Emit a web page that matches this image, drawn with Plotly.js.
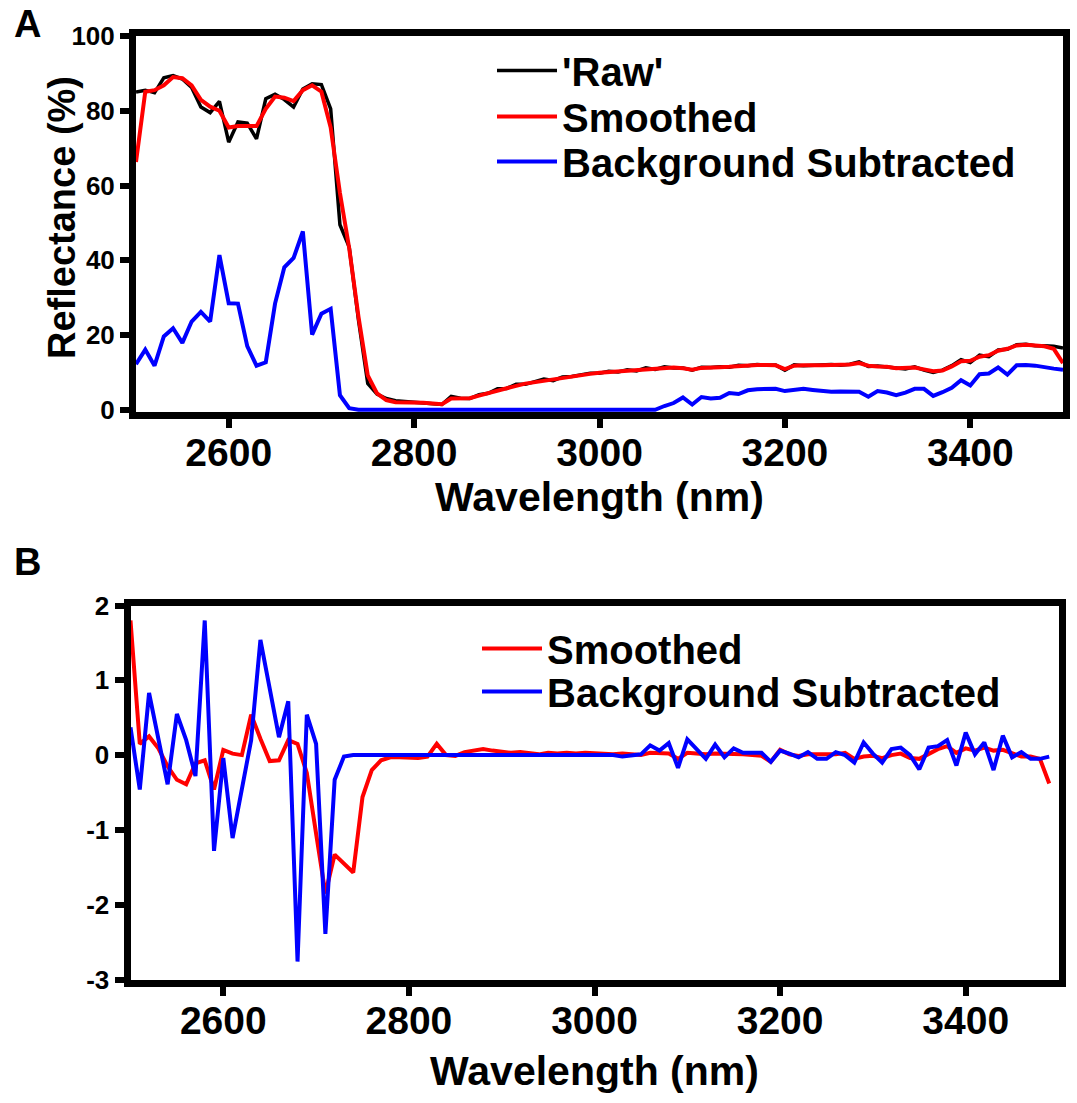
<!DOCTYPE html>
<html>
<head>
<meta charset="utf-8">
<script src="https://cdn.plot.ly/plotly-3.0.1.min.js"></script>
<style>
  html, body { margin: 0; padding: 0; background: #ffffff; }
  #chart { width: 1077px; height: 1103px; }
</style>
</head>
<body>
<div id="chart"></div>
<script>
// ---------- Panel A data (Reflectance %, 2500-3500 nm) ----------
const wavelengthA = [
  2500,2510,2520,2530,2540,2550,2560,2570,2580,2590,
  2600,2610,2620,2630,2640,2650,2660,2670,2680,2690,
  2700,2710,2720,2730,2740,2750,2760,2770,2780,2790,
  2800,2810,2820,2830,2840,2850,2860,2870,2880,2890,
  2900,2910,2920,2930,2940,2950,2960,2970,2980,2990,
  3000,3010,3020,3030,3040,3050,3060,3070,3080,3090,
  3100,3110,3120,3130,3140,3150,3160,3170,3180,3190,
  3200,3210,3220,3230,3240,3250,3260,3270,3280,3290,
  3300,3310,3320,3330,3340,3350,3360,3370,3380,3390,
  3400,3410,3420,3430,3440,3450,3460,3470,3480,3490,
  3500
];
const rawA = [
  85.0,85.5,84.8,88.8,89.4,88.5,86.2,81.0,79.5,82.5,
  71.6,77.0,76.7,72.5,83.2,84.4,83.0,81.0,85.8,87.2,
  87.0,80.5,49.5,43.5,24.0,7.0,4.2,3.0,2.4,2.2,
  2.1,2.0,1.8,1.4,3.6,3.1,3.0,4.0,4.4,5.6,
  5.7,6.8,6.8,7.6,8.2,7.8,8.8,8.9,9.4,9.8,
  9.8,10.3,10.1,10.7,10.4,11.2,10.8,11.5,11.2,11.2,
  10.6,11.4,11.3,11.5,11.4,11.9,11.8,12.1,11.9,12.0,
  10.6,12.0,11.8,11.9,11.8,12.1,11.9,12.2,12.8,11.6,
  11.7,11.4,11.2,10.9,11.5,10.6,10.0,10.6,11.8,13.4,
  12.6,14.6,14.2,16.0,16.2,17.4,17.5,17.1,17.1,17.0,
  16.5
];
const smoothedA = [
  66.3,85.1,85.5,86.8,89.0,88.7,86.8,82.9,81.1,80.0,
  75.5,75.9,75.9,75.9,80.5,83.8,83.5,82.6,85.5,86.8,
  85.1,75.5,58.0,43.2,24.9,9.2,4.4,2.6,2.0,2.0,
  2.0,1.9,1.7,1.5,3.0,3.0,3.1,3.8,4.5,5.2,
  5.8,6.4,7.0,7.4,7.8,8.1,8.6,8.9,9.3,9.6,
  9.9,10.1,10.3,10.5,10.6,10.8,11.0,11.2,11.3,11.1,
  10.7,11.2,11.4,11.4,11.5,11.7,11.9,12.0,12.0,11.9,
  10.9,11.8,11.9,11.8,11.9,12.0,12.0,12.1,12.5,11.8,
  11.6,11.5,11.1,11.1,11.3,10.8,10.3,10.5,11.6,13.0,
  13.1,14.2,14.6,15.8,16.3,17.2,17.4,17.2,17.0,16.3,
  12.5
];
const subtractedA = [
  12.2,16.1,11.8,19.6,21.8,17.9,23.6,26.2,23.6,41.4,
  28.5,28.4,17.0,11.8,12.7,28.4,38.1,40.6,47.7,20.1,
  25.7,27.0,3.9,0.4,0,0,0,0,0,0,
  0,0,0,0,0,0,0,0,0,0,
  0,0,0,0,0,0,0,0,0,0,
  0,0,0,0,0,0,0,1.0,1.8,3.3,
  1.4,3.4,3.0,3.2,4.5,4.2,5.2,5.5,5.6,5.6,
  5.0,5.4,5.6,5.3,5.1,4.8,4.9,4.9,4.8,3.5,
  5.0,4.6,3.9,4.6,5.6,5.6,3.7,4.7,5.9,7.9,
  6.5,9.5,9.7,11.3,9.4,11.9,12.0,11.8,11.3,11.0,
  10.7
];

// ---------- Panel B data (first derivative, 2500-3490 nm) ----------
const wavelengthB = [
  2500,2510,2520,2530,2540,2550,2560,2570,2580,2590,
  2600,2610,2620,2630,2640,2650,2660,2670,2680,2690,
  2700,2710,2720,2730,2740,2750,2760,2770,2780,2790,
  2800,2810,2820,2830,2840,2850,2860,2870,2880,2890,
  2900,2910,2920,2930,2940,2950,2960,2970,2980,2990,
  3000,3010,3020,3030,3040,3050,3060,3070,3080,3090,
  3100,3110,3120,3130,3140,3150,3160,3170,3180,3190,
  3200,3210,3220,3230,3240,3250,3260,3270,3280,3290,
  3300,3310,3320,3330,3340,3350,3360,3370,3380,3390,
  3400,3410,3420,3430,3440,3450,3460,3470,3480,3490
];
const smoothedB = [
  1.80,0.15,0.25,0.09,-0.15,-0.33,-0.39,-0.11,-0.07,-0.46,
  0.07,0.02,0.00,0.54,0.22,-0.08,-0.07,0.20,0.15,-0.24,
  -1.05,-1.85,-1.33,-1.45,-1.57,-0.56,-0.20,-0.07,-0.03,-0.03,
  -0.04,-0.04,-0.02,0.15,0.00,-0.01,0.04,0.06,0.08,0.06,
  0.05,0.03,0.04,0.03,0.01,0.03,0.02,0.03,0.02,0.03,
  0.02,0.02,0.01,0.02,0.01,0.00,0.03,0.02,0.02,-0.05,
  0.03,0.02,0.01,0.02,0.02,0.02,0.01,0.00,-0.01,-0.09,
  0.07,0.01,-0.01,0.01,0.01,0.00,0.01,0.03,-0.05,-0.02,
  -0.01,-0.04,0.00,0.02,-0.04,-0.05,0.02,0.08,0.12,0.03,
  0.09,0.06,0.10,0.06,0.07,0.02,-0.02,-0.02,-0.05,-0.38
];
const subtractedB = [
  0.37,-0.46,0.83,0.22,-0.39,0.55,0.20,-0.28,1.80,-1.28,
  -0.04,-1.11,-0.45,0.20,1.54,0.87,0.24,0.72,-2.76,0.54,
  0.15,-2.39,-0.33,-0.02,0,0,0,0,0,0,
  0,0,0,0,0,0,0,0,0,0,
  0,0,0,0,0,0,0,0,0,0,
  0,0,0,-0.02,0.00,0.01,0.13,0.06,0.16,-0.17,
  0.21,0.08,-0.05,0.14,-0.03,0.09,0.03,0.03,0.03,-0.09,
  0.06,0.02,-0.03,0.04,-0.05,-0.05,0.04,0.00,-0.10,0.17,
  0.02,-0.10,0.08,0.10,0.00,-0.19,0.10,0.12,0.20,-0.14,
  0.30,0.01,0.17,-0.20,0.26,-0.03,0.04,-0.05,-0.05,-0.02
];

// ---------- Tick labels / text ----------
const xTicks = [2600, 2800, 3000, 3200, 3400];
const xTickText = ["2600", "2800", "3000", "3200", "3400"];
const yTicksA = [0, 20, 40, 60, 80, 100];
const yTickTextA = ["0", "20", "40", "60", "80", "100"];
const yTicksB = [-3, -2, -1, 0, 1, 2];
const yTickTextB = ["-3", "-2", "-1", "0", "1", "2"];
const seriesNames = ["'Raw'", "Smoothed", "Background Subtracted"];
const seriesColors = ["#000000", "#ff0000", "#0000ff"];

// ---------- Styling ----------
const FONT = "Liberation Sans, Arial, Helvetica, sans-serif";
const W = 1077, H = 1103;
const px = (a, b) => [a / W, b / W];
const py = (top, bottom) => [1 - bottom / H, 1 - top / H];

const traces = [
  { x: wavelengthA, y: rawA, name: seriesNames[0], type: "scatter", mode: "lines",
    line: { color: seriesColors[0], width: 3.5 }, xaxis: "x", yaxis: "y", legend: "legend" },
  { x: wavelengthA, y: smoothedA, name: seriesNames[1], type: "scatter", mode: "lines",
    line: { color: seriesColors[1], width: 4 }, xaxis: "x", yaxis: "y", legend: "legend2" },
  { x: wavelengthA, y: subtractedA, name: seriesNames[2], type: "scatter", mode: "lines",
    line: { color: seriesColors[2], width: 4 }, xaxis: "x", yaxis: "y", legend: "legend3" },
  { x: wavelengthB, y: smoothedB, name: seriesNames[1], type: "scatter", mode: "lines",
    line: { color: seriesColors[1], width: 4 }, xaxis: "x2", yaxis: "y2", legend: "legend4" },
  { x: wavelengthB, y: subtractedB, name: seriesNames[2], type: "scatter", mode: "lines",
    line: { color: seriesColors[2], width: 4 }, xaxis: "x2", yaxis: "y2", legend: "legend5" }
];

const axisCommon = {
  showline: true, linecolor: "#000", linewidth: 7, mirror: true,
  showgrid: false, zeroline: false,
  ticks: "outside", ticklen: 9, tickwidth: 6, tickcolor: "#000",
  fixedrange: true
};

const xTickFont = { family: FONT, size: 39, weight: 700, color: "#000" };
const yTickFont = { family: FONT, size: 26, weight: 700, color: "#000" };
const xTitle = (standoff) => ({
  text: "Wavelength (nm)",
  font: { family: FONT, size: 41, color: "#000", weight: 700 },
  standoff: standoff
});

const legendBox = (left, top) => ({
  x: left / W, xanchor: "left", y: 1 - top / H, yanchor: "top",
  bgcolor: "rgba(0,0,0,0)", borderwidth: 0, itemwidth: 60,
  font: { family: FONT, size: 40, color: "#000", weight: 700 }
});

const layout = {
  width: W, height: H, autosize: false,
  margin: { l: 0, r: 0, t: 0, b: 0, pad: 0 },
  paper_bgcolor: "#fff", plot_bgcolor: "#fff",
  font: { family: FONT, color: "#000" },
  xaxis: Object.assign({}, axisCommon, {
    domain: px(136, 1063), anchor: "y", range: [2500, 3500],
    tickmode: "array", tickvals: xTicks, ticktext: xTickText,
    tickfont: xTickFont, ticklabelstandoff: -9,
    title: xTitle(6)
  }),
  yaxis: Object.assign({}, axisCommon, {
    domain: py(36, 412), anchor: "x", range: [-0.6, 100],
    tickmode: "array", tickvals: yTicksA, ticktext: yTickTextA,
    tickfont: yTickFont
  }),
  xaxis2: Object.assign({}, axisCommon, {
    domain: px(130.5, 1058.5), anchor: "y2", range: [2500, 3500],
    tickmode: "array", tickvals: xTicks, ticktext: xTickText,
    tickfont: xTickFont, ticklabelstandoff: -8,
    title: xTitle(18)
  }),
  yaxis2: Object.assign({}, axisCommon, {
    domain: py(605.5, 979.5), anchor: "x2", range: [-3, 2],
    tickmode: "array", tickvals: yTicksB, ticktext: yTickTextB,
    tickfont: yTickFont
  }),
  legend: legendBox(492, 38),
  legend2: legendBox(492, 84),
  legend3: legendBox(492, 129),
  legend4: legendBox(477, 616),
  legend5: legendBox(477, 659),
  showlegend: true,
  annotations: [
    { text: "A", xref: "paper", yref: "paper", x: 28 / W, y: 1 - 24 / H,
      xanchor: "center", yanchor: "middle", showarrow: false,
      font: { family: FONT, size: 38, weight: 700, color: "#000" } },
    { text: "B", xref: "paper", yref: "paper", x: 28 / W, y: 1 - 562 / H,
      xanchor: "center", yanchor: "middle", showarrow: false,
      font: { family: FONT, size: 38, weight: 700, color: "#000" } },
    { text: "Reflectance (%)", xref: "paper", yref: "paper", x: 62 / W, y: 1 - 218 / H,
      xanchor: "center", yanchor: "middle", textangle: -90, showarrow: false,
      font: { family: FONT, size: 38, weight: 700, color: "#000" } }
  ]
};

Plotly.newPlot("chart", traces, layout, { displayModeBar: false, responsive: false, staticPlot: true });
</script>
</body>
</html>
